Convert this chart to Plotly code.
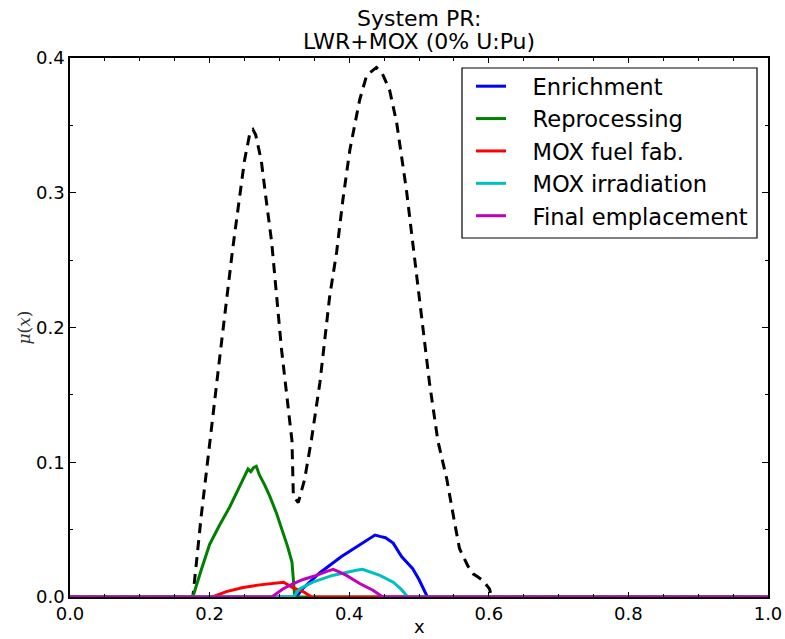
import plotly.graph_objects as go

# ---- data ----
total_x = [0.0, 0.176, 0.188, 0.199, 0.215, 0.233, 0.243, 0.250, 0.258, 0.262, 0.266, 0.274, 0.281, 0.289,
           0.303, 0.318, 0.320, 0.327, 0.336, 0.346, 0.358, 0.372, 0.382, 0.391, 0.401, 0.415, 0.425, 0.432,
           0.439, 0.447, 0.458, 0.468, 0.482, 0.491, 0.506, 0.515, 0.527, 0.540, 0.550, 0.558, 0.570, 0.578,
           0.584, 0.592, 0.601, 0.604, 1.0]
total_y = [0, 0, 0.06, 0.11, 0.18, 0.258, 0.295, 0.324, 0.345, 0.347, 0.343, 0.324, 0.295, 0.263,
           0.184, 0.116, 0.075, 0.070, 0.087, 0.117, 0.159, 0.223, 0.256, 0.295, 0.332, 0.369, 0.387, 0.390,
           0.393, 0.389, 0.376, 0.352, 0.302, 0.263, 0.196, 0.159, 0.116, 0.087, 0.058, 0.036, 0.023, 0.017,
           0.015, 0.012, 0.006, 0, 0]

enrich_x = [0, 0.325, 0.331, 0.358, 0.389, 0.415, 0.428, 0.437, 0.444, 0.452, 0.463, 0.475, 0.491, 0.500, 0.512, 1.0]
enrich_y = [0, 0, 0.005, 0.018, 0.030, 0.039, 0.043, 0.046, 0.045, 0.044, 0.040, 0.030, 0.021, 0.013, 0, 0]

repro_x = [0, 0.176, 0.188, 0.200, 0.214, 0.229, 0.242, 0.255, 0.259, 0.263, 0.267, 0.271, 0.279, 0.286,
           0.296, 0.305, 0.312, 0.318, 0.320, 0.322, 1.0]
repro_y = [0, 0, 0.020, 0.039, 0.053, 0.067, 0.081, 0.095, 0.093, 0.096, 0.097, 0.091, 0.083, 0.075,
           0.062, 0.048, 0.037, 0.026, 0.011, 0, 0]

fab_x = [0, 0.204, 0.224, 0.248, 0.272, 0.290, 0.300, 0.306, 0.319, 0.334, 0.346, 1.0]
fab_y = [0, 0, 0.004, 0.007, 0.009, 0.010, 0.011, 0.011, 0.007, 0.004, 0, 0]

irr_x = [0, 0.320, 0.329, 0.348, 0.376, 0.401, 0.412, 0.419, 0.428, 0.444, 0.463, 0.474, 0.484, 1.0]
irr_y = [0, 0, 0.006, 0.011, 0.016, 0.019, 0.020, 0.0205, 0.019, 0.016, 0.011, 0.006, 0, 0]

final_x = [0, 0.289, 0.305, 0.320, 0.334, 0.353, 0.368, 0.377, 0.384, 0.396, 0.415, 0.434, 0.448, 1.0]
final_y = [0, 0, 0.006, 0.010, 0.013, 0.016, 0.019, 0.0205, 0.019, 0.016, 0.010, 0.005, 0, 0]

series_names = ["Enrichment", "Reprocessing", "MOX fuel fab.", "MOX irradiation", "Final emplacement"]
series_colors = ["#0000ff", "#008000", "#ff0000", "#00bfbf", "#bf00bf"]
series_x = [enrich_x, repro_x, fab_x, irr_x, final_x]
series_y = [enrich_y, repro_y, fab_y, irr_y, final_y]

title_lines = ["System PR:", "LWR+MOX (0% U:Pu)"]

# ---- geometry (pixels) ----
W, H = 785, 639
L, R, T, B = 70, 768, 58, 597
PW, PH = R - L, B - T


def px(xp):
    return (xp - L) / PW


def py(yp):
    return (B - yp) / PH


# ---- figure ----
fig = go.Figure()
fig.add_trace(go.Scatter(x=total_x, y=total_y, mode="lines", showlegend=False,
                         line=dict(color="black", width=3, dash="10px,7px")))
for nm, c, xs, ys in zip(series_names, series_colors, series_x, series_y):
    fig.add_trace(go.Scatter(x=xs, y=ys, mode="lines", name="\u00a0\u00a0\u00a0" + nm,
                             line=dict(color=c, width=3)))

FONT = "DejaVu Sans"
axis_common = dict(showgrid=False, zeroline=False, showline=True, linecolor="black", linewidth=1.5,
                   mirror="allticks", ticks="inside", tickcolor="black", tickwidth=1, automargin=False,
                   tickfont=dict(family=FONT, size=18, color="black"))

fig.update_layout(
    width=W, height=H,
    margin=dict(l=L, r=W - R, t=T, b=H - B, autoexpand=False),
    paper_bgcolor="white", plot_bgcolor="white",
    font=dict(family=FONT, color="black"),
    xaxis=dict(range=[0, 1], tickvals=[0, 0.2, 0.4, 0.6, 0.8, 1.0],
               ticktext=["0.0", "0.2", "0.4", "0.6", "0.8", "1.0"], ticklen=5,
               minor=dict(dtick=0.05, ticks="inside", ticklen=3, tickcolor="black", tickwidth=1),
               **axis_common),
    yaxis=dict(range=[0, 0.4], tickvals=[0, 0.1, 0.2, 0.3, 0.4],
               ticktext=["0.0", "0.1", "0.2", "0.3", "0.4"], ticklen=6,
               minor=dict(dtick=0.05, ticks="inside", ticklen=3, tickcolor="black", tickwidth=1),
               **axis_common),
    legend=dict(x=px(471), y=py(65), xanchor="left", yanchor="top",
                bgcolor="rgba(0,0,0,0)", borderwidth=0,
                font=dict(family=FONT, size=22.6, color="black"), itemwidth=30),
    showlegend=True,
)

# legend frame
fig.add_shape(type="rect", xref="paper", yref="paper", x0=px(462), x1=px(757), y0=py(238), y1=py(68),
              line=dict(color="black", width=1.2), fillcolor="white", layer="below")

# title lines
fig.add_annotation(text=title_lines[0], xref="paper", yref="paper", x=0.5, y=py(18),
                   xanchor="center", yanchor="middle", showarrow=False,
                   font=dict(family=FONT, size=22, color="black"))
fig.add_annotation(text=title_lines[1], xref="paper", yref="paper", x=0.5, y=py(41),
                   xanchor="center", yanchor="middle", showarrow=False,
                   font=dict(family=FONT, size=22, color="black"))
# axis labels
fig.add_annotation(text="x", xref="paper", yref="paper", x=0.5, y=py(626),
                   xanchor="center", yanchor="middle", showarrow=False,
                   font=dict(family=FONT, size=18, color="black"))
fig.add_annotation(text="<i>μ</i>(<i>x</i>)", xref="paper", yref="paper", x=px(23), y=0.5,
                   xanchor="center", yanchor="middle", showarrow=False, textangle=-90,
                   font=dict(family="DejaVu Serif", size=17, color="#333333"))

fig.write_html("out.html")
